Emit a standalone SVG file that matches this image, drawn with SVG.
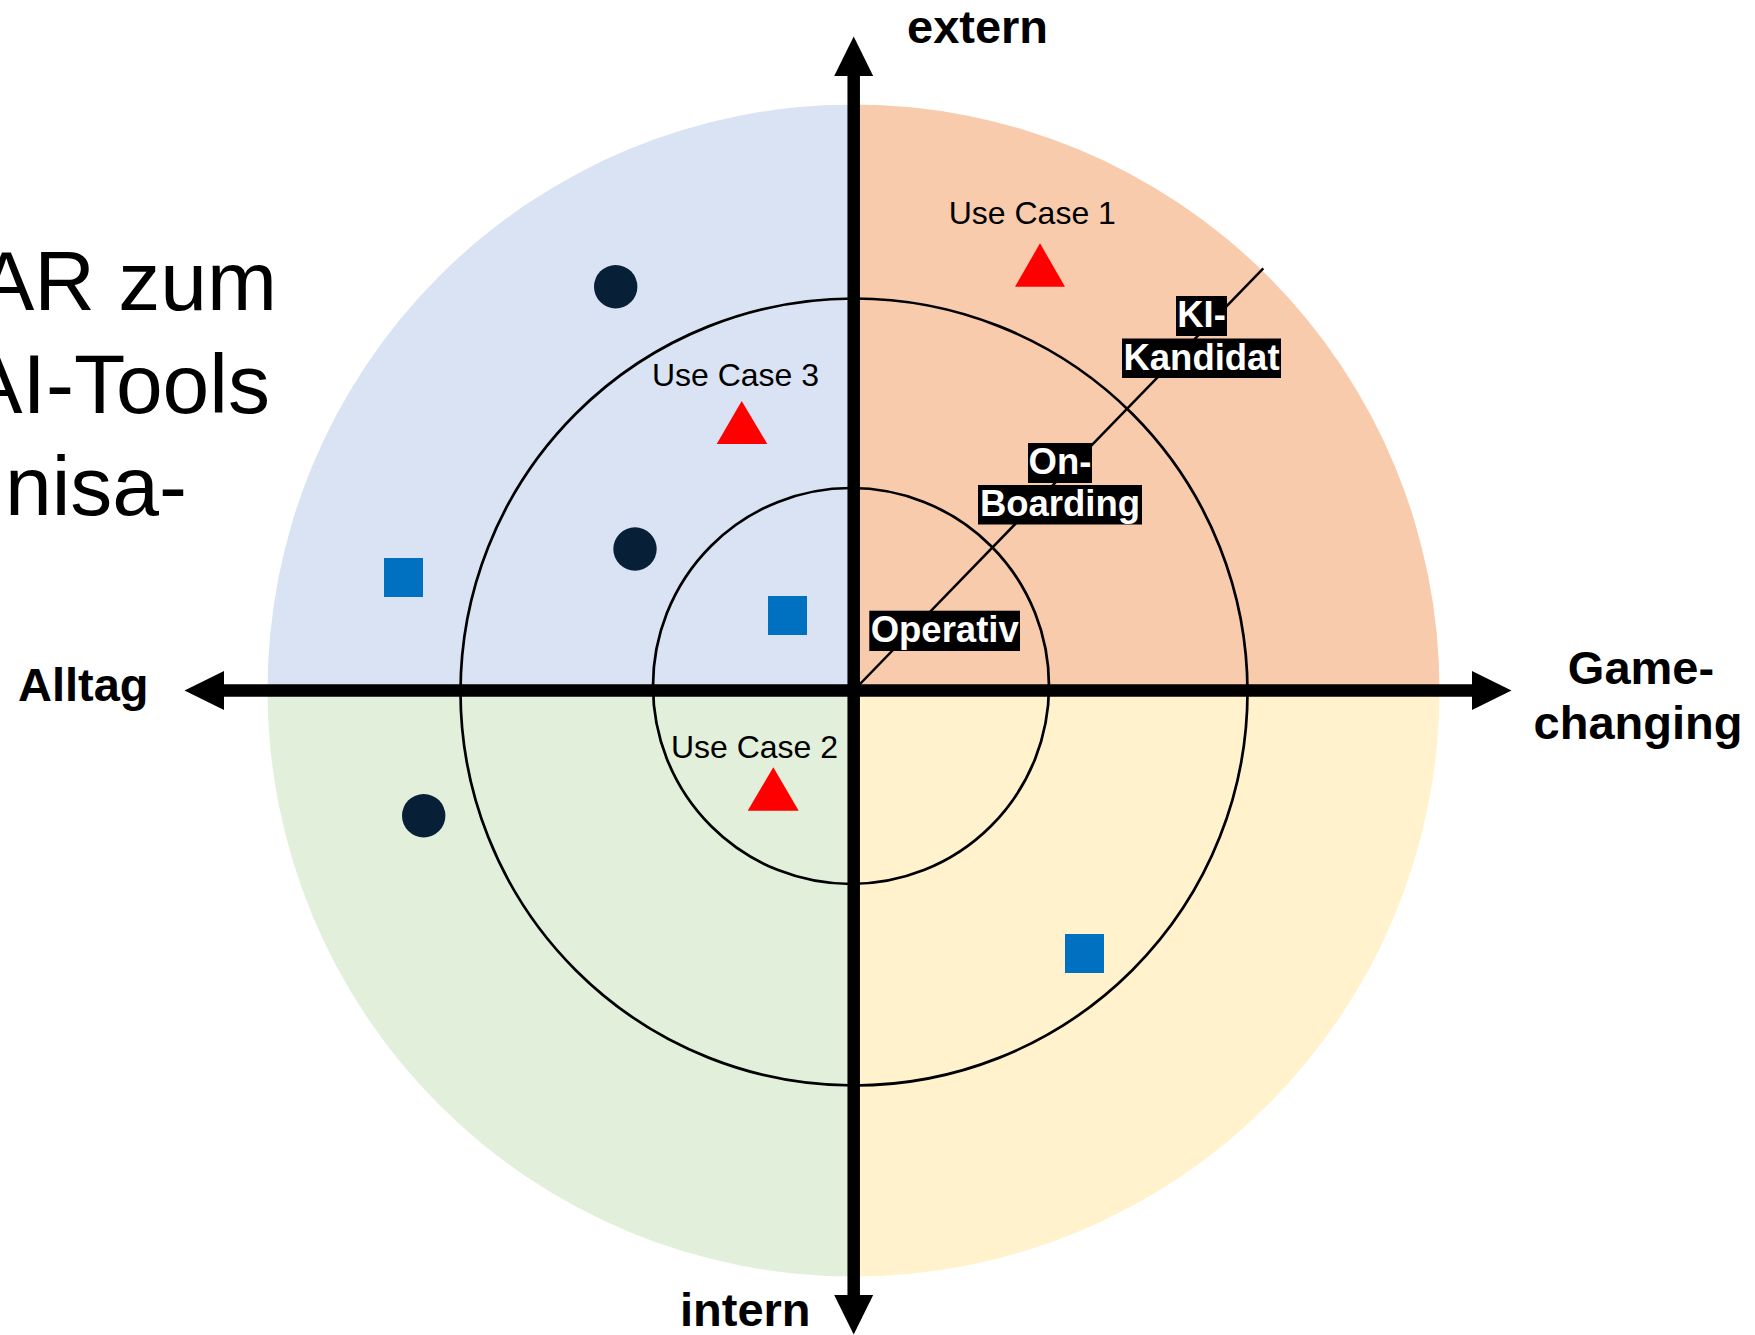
<svg xmlns="http://www.w3.org/2000/svg" width="1755" height="1335" viewBox="0 0 1755 1335">
  <style>
    .big { font-family: "Liberation Sans", Arial, sans-serif; font-size: 84px; fill: #000; }
    .axis-label { font-family: "Liberation Sans", Arial, sans-serif; font-size: 47px; font-weight: bold; fill: #000; }
    .uc { font-family: "Liberation Sans", Arial, sans-serif; font-size: 32px; fill: #000; text-anchor: middle; }
    .tag-bg { fill: #000; }
    .tag { font-family: "Liberation Sans", Arial, sans-serif; font-size: 36.5px; font-weight: bold; fill: #fff; text-anchor: middle; }
    .ring { fill: none; stroke: #000; stroke-width: 2.7; }
    .axis { stroke: #000; stroke-width: 12.5; fill: none; }
    .dot { fill: #071F37; }
    .sq { fill: #0070C0; }
    .tri { fill: #FF0000; }
  </style>
  <defs>
    <marker id="ah" markerUnits="userSpaceOnUse" markerWidth="42" markerHeight="42" viewBox="-1 -21 42 42" refX="0" refY="0" orient="auto-start-reverse" overflow="visible">
      <path d="M-1,-19.5 L38.5,0 L-1,19.5 z" fill="#000"/>
    </marker>
  </defs>
  <rect width="1755" height="1335" fill="#fff"/>

  <!-- left title fragments -->
  <g id="title">
    <text class="big" x="277" y="310" text-anchor="end">AR zum</text>
    <text class="big" x="270" y="413" text-anchor="end">AI-Tools</text>
    <text class="big" x="187" y="515" text-anchor="end">nisa-</text>
  </g>

  <!-- quadrants -->
  <g id="quadrants">
    <path id="q-tl" d="M853.5,690.5 L267.5,690.5 A586,586 0 0 1 853.5,104.5 Z" fill="#DAE3F3"/>
    <path id="q-tr" d="M853.5,690.5 L853.5,104.5 A586,586 0 0 1 1439.5,690.5 Z" fill="#F8CBAD"/>
    <path id="q-br" d="M853.5,690.5 L1439.5,690.5 A586,586 0 0 1 853.5,1276.5 Z" fill="#FFF2CC"/>
    <path id="q-bl" d="M853.5,690.5 L853.5,1276.5 A586,586 0 0 1 267.5,690.5 Z" fill="#E2EFDA"/>
  </g>

  <!-- rings -->
  <g id="rings">
    <circle id="ring-middle" class="ring" cx="854" cy="692" r="393.5"/>
    <circle id="ring-inner" class="ring" cx="851" cy="686" r="198"/>
  </g>

  <!-- connectors -->
  <g id="connectors">
    <line id="scale-line" x1="853.7" y1="690.5" x2="1263.3" y2="268.3" stroke="#000" stroke-width="2.5"/>
    <line id="axis-v" class="axis" x1="853.7" y1="1296" x2="853.7" y2="75" marker-start="url(#ah)" marker-end="url(#ah)"/>
    <line id="axis-h" class="axis" x1="1473" y1="690.5" x2="223" y2="690.5" marker-start="url(#ah)" marker-end="url(#ah)"/>
  </g>

  <!-- ring tags -->
  <g id="tag-ki">
    <rect class="tag-bg" x="1176" y="296" width="51" height="40"/>
    <text class="tag" x="1201.5" y="327">KI-</text>
    <rect class="tag-bg" x="1122" y="338.5" width="159" height="39.5"/>
    <text class="tag" x="1201.5" y="370">Kandidat</text>
  </g>
  <g id="tag-onboarding">
    <rect class="tag-bg" x="1028" y="443" width="64" height="40"/>
    <text class="tag" x="1060" y="474">On-</text>
    <rect class="tag-bg" x="978" y="485" width="164" height="39.5"/>
    <text class="tag" x="1060" y="516">Boarding</text>
  </g>
  <g id="tag-operativ">
    <rect class="tag-bg" x="869.3" y="610.7" width="150.7" height="40.3"/>
    <text class="tag" x="944.7" y="642">Operativ</text>
  </g>

  <!-- use cases -->
  <g id="use-case-1">
    <text class="uc" x="1032.3" y="224.3">Use Case 1</text>
    <polygon class="tri" points="1040,243.3 1065,286.7 1015,286.7"/>
  </g>
  <g id="use-case-3">
    <text class="uc" x="735.5" y="385.7">Use Case 3</text>
    <polygon class="tri" points="741.7,401 767.3,444 716.7,444"/>
  </g>
  <g id="use-case-2">
    <text class="uc" x="754.5" y="757.7">Use Case 2</text>
    <polygon class="tri" points="773.3,767.3 798.7,810.7 747.7,810.7"/>
  </g>

  <!-- other items -->
  <g id="dot-1"><circle class="dot" cx="615.7" cy="286.7" r="21.7"/></g>
  <g id="dot-2"><circle class="dot" cx="635" cy="549" r="21.7"/></g>
  <g id="dot-3"><circle class="dot" cx="423.7" cy="815.7" r="21.7"/></g>
  <g id="square-1"><rect class="sq" x="384" y="558" width="39" height="39"/></g>
  <g id="square-2"><rect class="sq" x="768" y="596" width="39" height="39"/></g>
  <g id="square-3"><rect class="sq" x="1065" y="934" width="39" height="39"/></g>

  <!-- axis labels -->
  <g id="label-extern"><text class="axis-label" x="907" y="43">extern</text></g>
  <g id="label-intern"><text class="axis-label" x="680" y="1326">intern</text></g>
  <g id="label-alltag"><text class="axis-label" x="18" y="701">Alltag</text></g>
  <g id="label-gamechanging">
    <text class="axis-label" x="1641" y="684" text-anchor="middle">Game-</text>
    <text class="axis-label" x="1638" y="739" text-anchor="middle">changing</text>
  </g>
</svg>
